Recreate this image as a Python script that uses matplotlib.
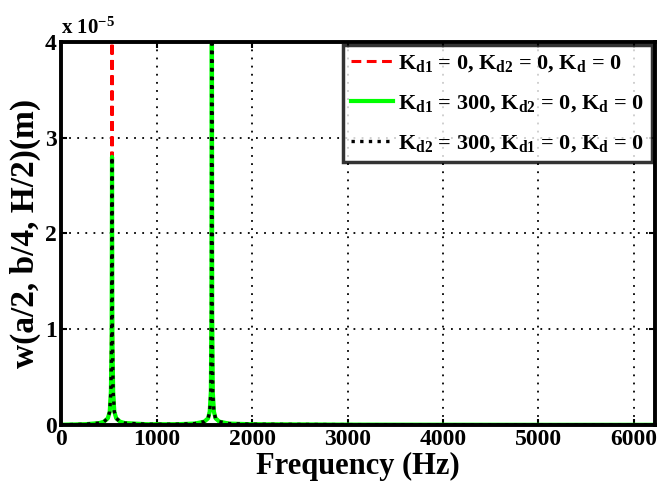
import matplotlib
matplotlib.use("Agg")
import matplotlib.pyplot as plt

plt.rcParams['font.family'] = ['Liberation Serif', 'DejaVu Serif']
plt.rcParams['font.weight'] = 'bold'
plt.rcParams['mathtext.fontset'] = 'custom'
plt.rcParams['mathtext.rm'] = 'Liberation Serif:bold'
plt.rcParams['mathtext.it'] = 'Liberation Serif:bold'
plt.rcParams['mathtext.bf'] = 'Liberation Serif:bold'

# Frequency samples (Hz)
freq = [0, 250, 400, 450, 490, 510, 522, 530, 534, 538, 546, 558, 578, 618, 668,
        900, 1200, 1400, 1500, 1540, 1557, 1569, 1575, 1579, 1583, 1589, 1601,
        1618, 1658, 1758, 2000, 3000, 4000, 5000, 6200]

# Responses in units of 1e-5 m
w_case1 = [0.003, 0.008, 0.02, 0.035, 0.07, 0.14, 0.35, 1.2, 6.0, 1.2, 0.35, 0.14, 0.07, 0.035, 0.02,
           0.008, 0.008, 0.015, 0.035, 0.07, 0.14, 0.35, 1.2, 6.0, 1.2, 0.35, 0.14,
           0.07, 0.035, 0.015, 0.008, 0.004, 0.003, 0.002, 0.002]
w_case2 = [0.003, 0.008, 0.02, 0.035, 0.07, 0.14, 0.35, 0.9, 2.8, 0.9, 0.35, 0.14, 0.07, 0.035, 0.02,
           0.008, 0.008, 0.015, 0.035, 0.07, 0.14, 0.35, 1.2, 6.0, 1.2, 0.35, 0.14,
           0.07, 0.035, 0.015, 0.008, 0.004, 0.003, 0.002, 0.002]
w_case3 = [0.003, 0.008, 0.02, 0.035, 0.07, 0.14, 0.35, 0.9, 2.8, 0.9, 0.35, 0.14, 0.07, 0.035, 0.02,
           0.008, 0.008, 0.015, 0.035, 0.07, 0.14, 0.35, 1.2, 6.0, 1.2, 0.35, 0.14,
           0.07, 0.035, 0.015, 0.008, 0.004, 0.003, 0.002, 0.002]

labels = [r"K$_{d1}$ = 0, K$_{d2}$ = 0, K$_{d}$ = 0",
          r"K$_{d1}$ = 300, K$_{d2}$ = 0, K$_{d}$ = 0",
          r"K$_{d2}$ = 300, K$_{d1}$ = 0, K$_{d}$ = 0"]

xticks = [0, 1000, 2000, 3000, 4000, 5000, 6000]
yticks = [0, 1, 2, 3, 4]

fig = plt.figure(figsize=(6.67, 4.91), dpi=100)
ax = fig.add_axes([0.0915, 0.1344, 0.8905, 0.7801])

ax.plot(freq, w_case1, color='#ff0000', lw=2.2, linestyle=(0, (3.2, 1.8)), label=labels[0], zorder=3)
ax.plot(freq, w_case2, color='#00ff00', lw=3.0, linestyle='-', label=labels[1], zorder=4)
ax.plot(freq, w_case3, color='black', lw=2.4, linestyle=(0, (1, 1.6)), label=labels[2], zorder=5)

ax.set_xlim(0, 6220)
ax.set_ylim(0, 4)
ax.set_xticks(xticks)
ax.set_yticks(yticks)
ax.set_xticklabels([str(t) for t in xticks])
ax.set_yticklabels([str(t) for t in yticks])
ax.grid(True, color='black', linestyle=(0, (1, 3.5)), linewidth=1.3)
ax.tick_params(direction='in', length=4, width=1.5, top=True, right=True,
               labelsize=17, pad=3)
for s in ax.spines.values():
    s.set_linewidth(2.8)
    s.set_zorder(6)

ax.set_xlabel("Frequency (Hz)", fontsize=22, fontweight='bold', labelpad=1)
ax.set_ylabel("w(a/2, b/4, H/2)(m)", fontsize=24, fontweight='bold', labelpad=3)

ax.text(0.0, 1.008, r"x 10$^{-5}$", transform=ax.transAxes, ha='left', va='bottom',
        fontsize=15, fontweight='bold')

leg = ax.legend(loc='upper right', bbox_to_anchor=(1.0, 1.0), borderaxespad=0.15,
                fontsize=16, frameon=True, fancybox=False, handlelength=1.9,
                handletextpad=0.2, labelspacing=0.85, borderpad=0.35)
leg.get_frame().set_edgecolor('black')
leg.get_frame().set_linewidth(2.5)
leg.set_zorder(7)

fig.savefig("out.png", dpi=100)
